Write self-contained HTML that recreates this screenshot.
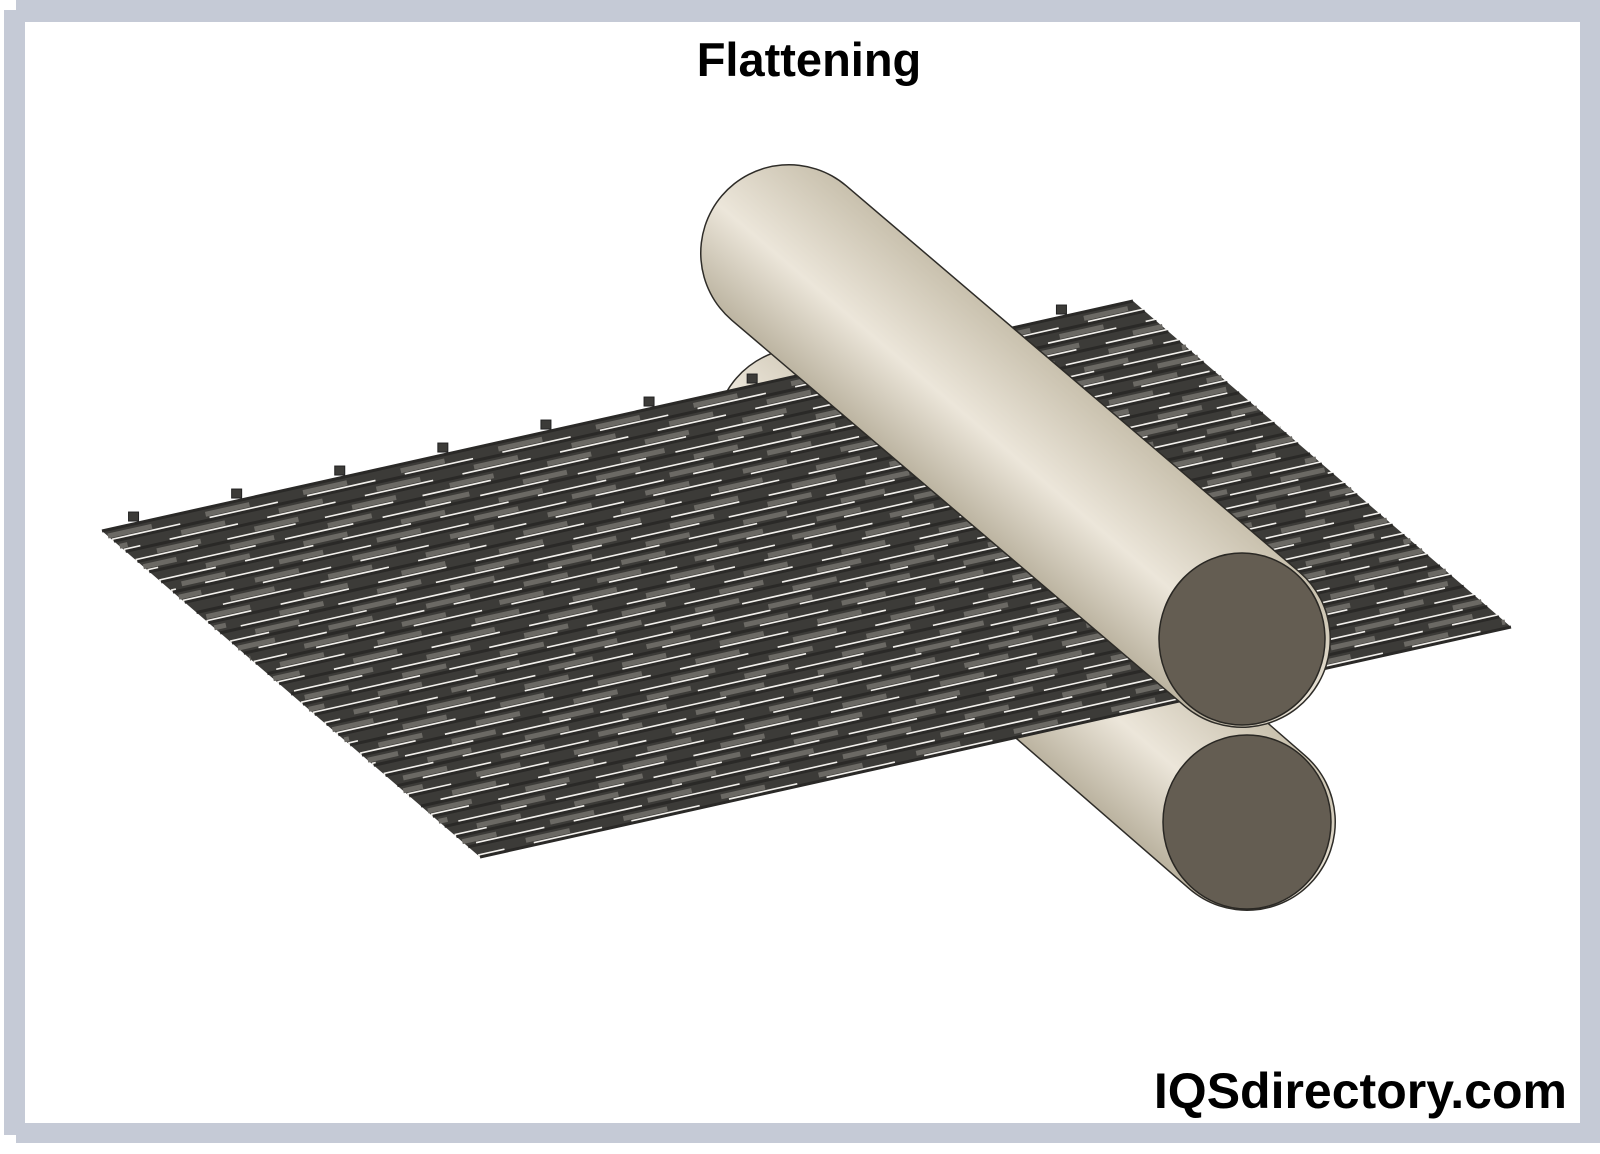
<!DOCTYPE html>
<html><head><meta charset="utf-8"><style>
html,body{margin:0;padding:0;background:#fff}
#w{position:relative;width:1600px;height:1154px;overflow:hidden;background:#fff}
</style></head><body><div id="w">
<svg width="1600" height="1154" viewBox="0 0 1600 1154" xmlns="http://www.w3.org/2000/svg">
<defs>
<linearGradient id="gt" gradientUnits="userSpaceOnUse" x1="1072" y1="379" x2="958" y2="513">
<stop offset="0" stop-color="#c9c1ae"/><stop offset="0.55" stop-color="#ece6da"/><stop offset="1" stop-color="#bcb4a1"/></linearGradient>
<linearGradient id="gb" gradientUnits="userSpaceOnUse" x1="1082" y1="562" x2="968" y2="696">
<stop offset="0" stop-color="#c9c1ae"/><stop offset="0.55" stop-color="#ece6da"/><stop offset="1" stop-color="#bcb4a1"/></linearGradient>
</defs>
<rect x="0" y="0" width="1600" height="1154" fill="#fff"/>
<rect x="16" y="0" width="1584" height="22" fill="#c5cad6"/>
<rect x="4" y="10" width="21" height="1125" fill="#c5cad6"/>
<rect x="16" y="1123" width="1584" height="20" fill="#c5cad6"/>
<rect x="1580" y="0" width="20" height="1143" fill="#c5cad6"/>
<text x="809" y="76" font-family="Liberation Sans, sans-serif" font-weight="bold" font-size="47" text-anchor="middle">Flattening</text>
<text x="1567" y="1108" font-family="Liberation Sans, sans-serif" font-weight="bold" font-size="50" text-anchor="end">IQSdirectory.com</text>
<line x1="803" y1="436" x2="1247" y2="822" stroke="#2e2c28" stroke-width="178" stroke-linecap="round"/>
<line x1="803" y1="436" x2="1247" y2="822" stroke="url(#gb)" stroke-width="175" stroke-linecap="round"/>
<g id="mesh"></g>
<line x1="789" y1="253" x2="1242" y2="639" stroke="#2e2c28" stroke-width="178" stroke-linecap="round"/>
<line x1="789" y1="253" x2="1242" y2="639" stroke="url(#gt)" stroke-width="175" stroke-linecap="round"/>
<ellipse cx="1242" cy="639" rx="83" ry="86" fill="#645d52" stroke="#2a2824" stroke-width="1.5"/>
<ellipse cx="1247" cy="822" rx="84" ry="87" fill="#645d52" stroke="#2a2824" stroke-width="1.5"/>
</svg>
<script>
(function(){
var g=document.getElementById('mesh'),ns='http://www.w3.org/2000/svg';
var A=[102,531],B=[1133,301],D=[480,857];
var L=[B[0]-A[0],B[1]-A[1]],T=[D[0]-A[0],D[1]-A[1]];
function P(s,t){return [A[0]+L[0]*s+T[0]*t,A[1]+L[1]*s+T[1]*t];}
function el(n,a){var e=document.createElementNS(ns,n);for(var k in a)e.setAttribute(k,a[k]);g.appendChild(e);return e;}
var c=[P(0,0),P(1,0),P(1,1),P(0,1)];
el('polygon',{points:c.map(function(p){return p.join(',')}).join(' '),fill:'#3c3b38'});
var N=32;
for(var i=0;i<=N;i++){
 var t=i/N,a=P(0,t),b=P(1,t);
 el('line',{x1:a[0],y1:a[1],x2:b[0],y2:b[1],stroke:'#2a2927','stroke-width':3});
 if(i<N){
  var t2=(i+0.5)/N,a2=P(0,t2),b2=P(1,t2);
  el('line',{x1:a2[0],y1:a2[1],x2:b2[0],y2:b2[1],stroke:'#6b6964','stroke-width':5,'stroke-dasharray':'45 55','stroke-dashoffset':(i*37)%100});
  var t3=(i+0.85)/N,a3=P(0,t3),b3=P(1,t3);
  el('line',{x1:a3[0],y1:a3[1],x2:b3[0],y2:b3[1],stroke:'#f2f0ec','stroke-width':2.5,'stroke-dasharray':'70 30','stroke-dashoffset':(i*53)%100});
 }
}
for(var j=0;j<10;j++){var p=P(j/10+0.035,-0.012);el('rect',{x:p[0]-5,y:p[1]-7,width:10,height:9,fill:'#3c3b38',stroke:'#222'});}
})();
</script>
</div></body></html>
